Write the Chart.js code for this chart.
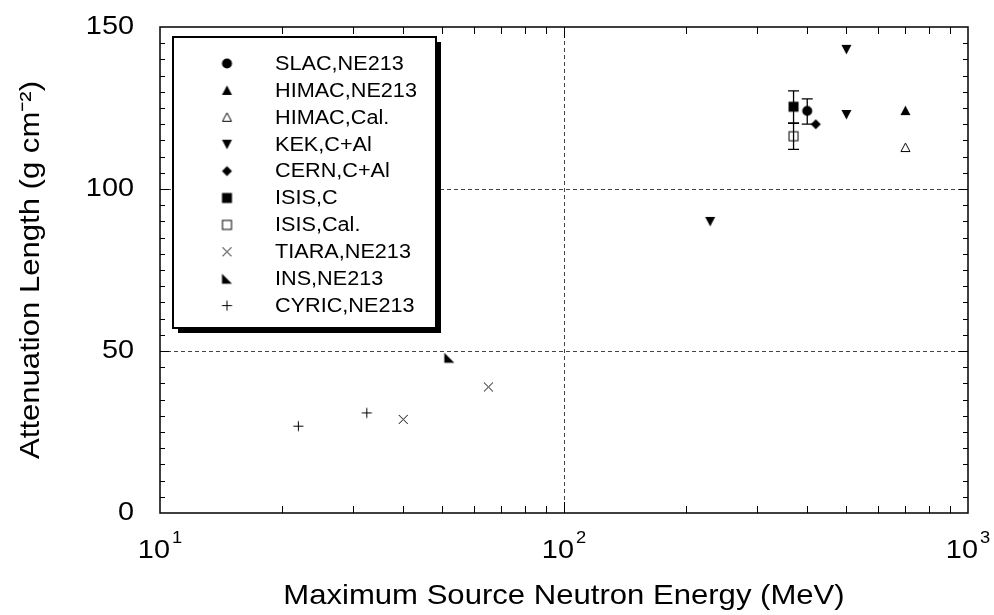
<!DOCTYPE html>
<html>
<head>
<meta charset="utf-8">
<script src="https://cdn.jsdelivr.net/npm/chart.js@4.4.1/dist/chart.umd.min.js"></script>
<style>
html, body { margin: 0; padding: 0; background: #fff; }
#wrap { width: 994px; height: 615px; }
</style>
</head>
<body>
<div id="wrap"><canvas id="Chart"></canvas></div>
<script>
// values (x in MeV, y in g cm^-2)
var slacX = [400],  slacY = [124.1],  slacLo = [120.0], slacHi = [127.8];
var himacNeX = [700], himacNeY = [124.2];
var himacCalX = [700], himacCalY = [112.8];
var kekX = [230, 500, 500], kekY = [90.0, 123.0, 143.1];
var cernX = [420], cernY = [120.0];
var isisCX = [370], isisCY = [125.4], isisCLo = [120.3], isisCHi = [130.3];
var isisCalX = [370], isisCalY = [116.3], isisCalLo = [112.2], isisCalHi = [120.3];
var tiaraX = [40, 65], tiaraY = [28.9, 38.9];
var insX = [52], insY = [47.9];
var cyricX = [22, 32.5], cyricY = [26.8, 30.9];

var xTickValues = [10, 100, 1000];
var xTickBase = '10';
var xTickExp = ['1', '2', '3'];
var yTickValues = [0, 50, 100, 150];

var FONT = 'Liberation Sans, Arial, sans-serif';
var WIDE = 1.11; // the original lettering is a bit wider than Arial
Chart.defaults.font.family = FONT;
Chart.defaults.color = '#000';

function pts(xs, ys) {
  return xs.map(function (x, i) { return {x: x, y: ys[i]}; });
}

// small canvases used as point symbols
function marker(kind) {
  var c = document.createElement('canvas');
  c.width = 13; c.height = 13;
  var g = c.getContext('2d');
  g.translate(6.5, 6.5);
  g.fillStyle = '#000'; g.strokeStyle = '#000'; g.lineWidth = 1;
  g.beginPath();
  if (kind == 'circle') { g.arc(0, 0, 5, 0, Math.PI * 2); g.fill(); }
  if (kind == 'tri') { g.moveTo(0, -5); g.lineTo(5, 4.5); g.lineTo(-5, 4.5); g.closePath(); g.fill(); }
  if (kind == 'triOpen') { g.moveTo(0, -4.5); g.lineTo(4.5, 4); g.lineTo(-4.5, 4); g.closePath(); g.stroke(); }
  if (kind == 'triDown') { g.moveTo(0, 5); g.lineTo(5, -4.5); g.lineTo(-5, -4.5); g.closePath(); g.fill(); }
  if (kind == 'diamond') { g.moveTo(0, -5); g.lineTo(5, 0); g.lineTo(0, 5); g.lineTo(-5, 0); g.closePath(); g.fill(); }
  if (kind == 'square') { g.fillRect(-5, -5, 10, 10); }
  if (kind == 'squareOpen') { g.strokeRect(-4.5, -4.5, 9, 9); }
  if (kind == 'x') { g.moveTo(-4.5, -4.5); g.lineTo(4.5, 4.5); g.moveTo(4.5, -4.5); g.lineTo(-4.5, 4.5); g.stroke(); }
  if (kind == 'corner') { g.moveTo(-5, -5); g.lineTo(5, 5); g.lineTo(-5, 5); g.closePath(); g.fill(); }
  if (kind == 'plus') { g.moveTo(-5, 0); g.lineTo(5, 0); g.moveTo(0, -5); g.lineTo(0, 5); g.stroke(); }
  return c;
}

// stretch all text a little horizontally around its anchor
var wideText = {
  id: 'wideText',
  beforeInit: function (chart) {
    var c = chart.ctx;
    var fill = c.fillText.bind(c), measure = c.measureText.bind(c);
    c.fillText = function (t, x, y) {
      c.save(); c.translate(x, y); c.scale(WIDE, 1); fill(t, 0, 0); c.restore();
    };
    c.measureText = function (t) {
      var m = measure(t);
      return {width: m.width * WIDE, actualBoundingBoxAscent: m.actualBoundingBoxAscent,
              actualBoundingBoxDescent: m.actualBoundingBoxDescent};
    };
  }
};

var errorBars = {
  id: 'errorBars',
  beforeDatasetsDraw: function (chart) {
    var ctx = chart.ctx, x = chart.scales.x, y = chart.scales.y;
    ctx.save();
    ctx.strokeStyle = '#000';
    ctx.lineWidth = 1.3;
    chart.data.datasets.forEach(function (ds) {
      if (!ds.errLo) return;
      ds.data.forEach(function (p, j) {
        var px = x.getPixelForValue(p.x);
        var y1 = y.getPixelForValue(ds.errLo[j]);
        var y2 = y.getPixelForValue(ds.errHi[j]);
        ctx.beginPath();
        ctx.moveTo(px, y1); ctx.lineTo(px, y2);
        ctx.moveTo(px - 5.5, y1); ctx.lineTo(px + 5.5, y1);
        ctx.moveTo(px - 5.5, y2); ctx.lineTo(px + 5.5, y2);
        ctx.stroke();
      });
    });
    ctx.restore();
  }
};

// frame, inward ticks, power-of-ten labels and the boxed legend
var frame = {
  id: 'frame',
  afterDraw: function (chart) {
    var ctx = chart.ctx, a = chart.chartArea, x = chart.scales.x, y = chart.scales.y;
    ctx.save();
    ctx.strokeStyle = '#000';
    ctx.lineWidth = 1;
    ctx.beginPath();
    [10, 100].forEach(function (d) {
      for (var m = 2; m <= 10; m++) {
        if (d * m == 1000) continue;
        var px = Math.round(x.getPixelForValue(d * m)) + 0.5;
        var len = m == 10 ? 11 : 7;
        ctx.moveTo(px, a.bottom); ctx.lineTo(px, a.bottom - len);
        ctx.moveTo(px, a.top); ctx.lineTo(px, a.top + len);
      }
    });
    for (var v = 5; v < 150; v += 5) {
      var py = Math.round(y.getPixelForValue(v)) + 0.5;
      var l = v % 50 == 0 ? 9 : 5;
      ctx.moveTo(a.left, py); ctx.lineTo(a.left + l, py);
      ctx.moveTo(a.right, py); ctx.lineTo(a.right - l, py);
    }
    ctx.stroke();
    ctx.lineWidth = 1.5;
    ctx.strokeRect(a.left, a.top, a.right - a.left, a.bottom - a.top);

    // x tick labels as 10 with a raised exponent
    ctx.fillStyle = '#000';
    ctx.textAlign = 'left';
    ctx.textBaseline = 'alphabetic';
    xTickValues.forEach(function (val, i) {
      var px = x.getPixelForValue(val);
      ctx.font = '26px ' + FONT;
      var w1 = ctx.measureText(xTickBase).width;
      ctx.font = '16.5px ' + FONT;
      var w2 = ctx.measureText(xTickExp[i]).width;
      var x0 = px - (w1 + 2 + w2) / 2;
      ctx.font = '26px ' + FONT;
      ctx.fillText(xTickBase, x0, a.bottom + 44.5);
      ctx.font = '16.5px ' + FONT;
      ctx.fillText(xTickExp[i], x0 + w1 + 2, a.bottom + 30);
    });

    // legend box with drop shadow
    var bx = 173, by = 37, bw = 263, bh = 291;
    ctx.fillStyle = '#000';
    ctx.fillRect(bx + 5, by + 5, bw, bh);
    ctx.fillStyle = '#fff';
    ctx.fillRect(bx, by, bw, bh);
    ctx.lineWidth = 2;
    ctx.strokeRect(bx, by, bw, bh);
    ctx.font = '19.5px ' + FONT;
    ctx.fillStyle = '#000';
    ctx.textBaseline = 'middle';
    chart.data.datasets.forEach(function (ds, i) {
      var ry = 63.5 + i * 26.9;
      var s = ds.pointStyle;
      ctx.drawImage(s, 227 - s.width / 2, ry - s.height / 2);
      ctx.fillText(ds.label, 275, ry + 1);
    });
    ctx.restore();
  }
};

function ds(label, xs, ys, kind, lo, hi) {
  return {
    label: label, data: pts(xs, ys), pointStyle: marker(kind),
    pointRadius: 6, pointHoverRadius: 6, showLine: false,
    errLo: lo, errHi: hi
  };
}

var ctx = document.getElementById('Chart');
var myChart = new Chart(ctx, {
  type: 'scatter',
  data: {
    datasets: [
      ds('SLAC,NE213', slacX, slacY, 'circle', slacLo, slacHi),
      ds('HIMAC,NE213', himacNeX, himacNeY, 'tri'),
      ds('HIMAC,Cal.', himacCalX, himacCalY, 'triOpen'),
      ds('KEK,C+Al', kekX, kekY, 'triDown'),
      ds('CERN,C+Al', cernX, cernY, 'diamond'),
      ds('ISIS,C', isisCX, isisCY, 'square', isisCLo, isisCHi),
      ds('ISIS,Cal.', isisCalX, isisCalY, 'squareOpen', isisCalLo, isisCalHi),
      ds('TIARA,NE213', tiaraX, tiaraY, 'x'),
      ds('INS,NE213', insX, insY, 'corner'),
      ds('CYRIC,NE213', cyricX, cyricY, 'plus')
    ]
  },
  options: {
    responsive: true,
    maintainAspectRatio: false,
    animation: false,
    layout: { padding: { top: 27, right: 26, left: 0, bottom: 0 } },
    plugins: { legend: { display: false }, tooltip: { enabled: false } },
    scales: {
      x: {
        type: 'logarithmic', min: 10, max: 1000,
        afterBuildTicks: function (s) { s.ticks = xTickValues.map(function (v) { return {value: v}; }); },
        afterFit: function (s) { s.height = 102; s.paddingLeft = 0; s.paddingRight = 0; },
        border: { display: false, dash: [4, 3] },
        grid: {
          drawTicks: false,
          color: function (c) { return c.tick && c.tick.value == 100 ? '#444' : 'rgba(0,0,0,0)'; },
          lineWidth: 1
        },
        ticks: { display: false },
        title: { display: true, text: 'Maximum Source Neutron Energy (MeV)', font: { size: 28, lineHeight: 1 }, padding: { top: 0, bottom: 5 } }
      },
      y: {
        min: 0, max: 150,
        afterBuildTicks: function (s) { s.ticks = yTickValues.map(function (v) { return {value: v}; }); },
        afterFit: function (s) { s.width = 160; s.paddingTop = 0; s.paddingBottom = 0; },
        border: { display: false, dash: [4, 3] },
        grid: {
          drawTicks: false,
          color: function (c) { return c.tick && (c.tick.value == 50 || c.tick.value == 100) ? '#444' : 'rgba(0,0,0,0)'; },
          lineWidth: 1
        },
        ticks: { padding: 26, font: { size: 26 } },
        title: { display: true, text: 'Attenuation Length (g cm\u207B\u00B2)', font: { size: 28, lineHeight: 1 }, padding: { top: 17, bottom: 0 } }
      }
    }
  },
  plugins: [wideText, errorBars, frame]
});
</script>
</body>
</html>
